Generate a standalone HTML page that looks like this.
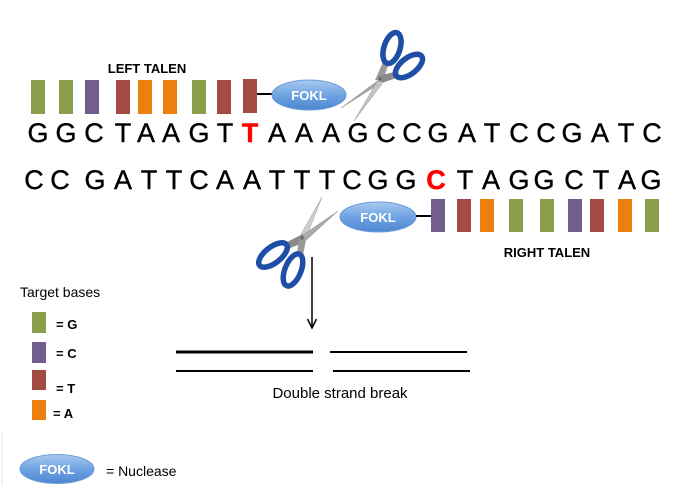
<!DOCTYPE html>
<html>
<head>
<meta charset="utf-8">
<style>
  html,body{margin:0;padding:0;background:#fff;}
  svg{display:block;}
  .seq{font-family:"Liberation Sans",sans-serif;font-size:27px;fill:#000;text-anchor:middle;stroke:#000;stroke-width:0.4;}
  .lbl{font-family:"Liberation Sans",sans-serif;font-weight:bold;font-size:13px;fill:#000;}
  .fk{font-family:"Liberation Sans",sans-serif;font-weight:bold;font-size:13px;fill:#fff;text-anchor:middle;}
  .txt{font-family:"Liberation Sans",sans-serif;font-size:14px;fill:#000;}
</style>
</head>
<body>
<svg width="673" height="486" viewBox="0 0 673 486" xmlns="http://www.w3.org/2000/svg">
  <defs>
    <linearGradient id="fok" x1="0" y1="0" x2="0" y2="1">
      <stop offset="0" stop-color="#a9cbf0"/>
      <stop offset="0.5" stop-color="#6fa3e2"/>
      <stop offset="1" stop-color="#4d86d0"/>
    </linearGradient>
    <linearGradient id="blade" x1="0" y1="0" x2="1" y2="1">
      <stop offset="0" stop-color="#d8d8d8"/>
      <stop offset="1" stop-color="#7a7a7a"/>
    </linearGradient>
  </defs>

  <!-- LEFT TALEN label -->
  <text class="lbl" x="147" y="73" text-anchor="middle">LEFT TALEN</text>

  <!-- left TALEN blocks -->
  <g>
    <rect x="31" y="80" width="14" height="34" fill="#8b9e4c"/>
    <rect x="59" y="80" width="14" height="34" fill="#8b9e4c"/>
    <rect x="85" y="80" width="14" height="34" fill="#715d8e"/>
    <rect x="116" y="80" width="14" height="34" fill="#a34a45"/>
    <rect x="138" y="80" width="14" height="34" fill="#ec800f"/>
    <rect x="163" y="80" width="14" height="34" fill="#ec800f"/>
    <rect x="192" y="80" width="14" height="34" fill="#8b9e4c"/>
    <rect x="217" y="80" width="14" height="34" fill="#a34a45"/>
    <rect x="243" y="79" width="14" height="34" fill="#a34a45"/>
  </g>
  <line x1="257" y1="94" x2="273" y2="94" stroke="#000" stroke-width="2"/>
  <ellipse cx="309" cy="95" rx="37" ry="15" fill="url(#fok)" stroke="#6b9bd8" stroke-width="1"/>
  <text class="fk" x="309" y="100">FOKL</text>

  <!-- top scissors -->
  <g>
    <polygon points="384,76 379,84 341,108" fill="url(#blade)" stroke="#888" stroke-width="0.5"/>
    <polygon points="378,80 382,84 354,121" fill="#c4c4c4" stroke="#999" stroke-width="0.5"/>
    <polygon points="375,80 383,62 389,63 383,80" fill="#9a9a9a"/>
    <polygon points="378,76 394,72 396,78 382,83" fill="#8a8a8a"/>
    <ellipse cx="392" cy="48" rx="8" ry="16" transform="rotate(18 392 48)" fill="#fff" stroke="#1f4ea6" stroke-width="5.5"/>
    <ellipse cx="409" cy="66" rx="16" ry="8" transform="rotate(-38 409 66)" fill="#fff" stroke="#1f4ea6" stroke-width="5.5"/>
    <circle cx="380" cy="79" r="1.6" fill="#666"/>
  </g>

  <!-- top sequence -->
  <g class="seq">
    <text x="38" y="142">G</text>
    <text x="66" y="142">G</text>
    <text x="94" y="142">C</text>
    <text x="123" y="142">T</text>
    <text x="146" y="142">A</text>
    <text x="171" y="142">A</text>
    <text x="199" y="142">G</text>
    <text x="225" y="142">T</text>
    <text x="250" y="142" style="fill:#ff0000;stroke:#ff0000;font-weight:bold">T</text>
    <text x="277" y="142">A</text>
    <text x="304" y="142">A</text>
    <text x="331" y="142">A</text>
    <text x="358" y="142">G</text>
    <text x="386" y="142">C</text>
    <text x="412" y="142">C</text>
    <text x="438" y="142">G</text>
    <text x="467" y="142">A</text>
    <text x="492" y="142">T</text>
    <text x="519" y="142">C</text>
    <text x="546" y="142">C</text>
    <text x="572" y="142">G</text>
    <text x="600" y="142">A</text>
    <text x="626" y="142">T</text>
    <text x="652" y="142">C</text>
  </g>

  <!-- bottom sequence -->
  <g class="seq">
    <text x="34" y="189">C</text>
    <text x="60" y="189">C</text>
    <text x="95" y="189">G</text>
    <text x="123" y="189">A</text>
    <text x="149" y="189">T</text>
    <text x="174" y="189">T</text>
    <text x="199" y="189">C</text>
    <text x="225" y="189">A</text>
    <text x="252" y="189">A</text>
    <text x="277" y="189">T</text>
    <text x="302" y="189">T</text>
    <text x="327" y="189">T</text>
    <text x="352" y="189">C</text>
    <text x="378" y="189">G</text>
    <text x="406" y="189">G</text>
    <text x="436" y="189" style="fill:#ff0000;stroke:#ff0000;font-weight:bold">C</text>
    <text x="465" y="189">T</text>
    <text x="491" y="189">A</text>
    <text x="519" y="189">G</text>
    <text x="544" y="189">G</text>
    <text x="574" y="189">C</text>
    <text x="601" y="189">T</text>
    <text x="627" y="189">A</text>
    <text x="651" y="189">G</text>
  </g>

  <!-- right TALEN -->
  <ellipse cx="378" cy="217" rx="38" ry="15" fill="url(#fok)" stroke="#6b9bd8" stroke-width="1"/>
  <text class="fk" x="378" y="222">FOKL</text>
  <line x1="416" y1="216" x2="431" y2="216" stroke="#000" stroke-width="2"/>
  <g>
    <rect x="431" y="199" width="14" height="33" fill="#715d8e"/>
    <rect x="457" y="199" width="14" height="33" fill="#a34a45"/>
    <rect x="480" y="199" width="14" height="33" fill="#ec800f"/>
    <rect x="509" y="199" width="14" height="33" fill="#8b9e4c"/>
    <rect x="540" y="199" width="14" height="33" fill="#8b9e4c"/>
    <rect x="568" y="199" width="14" height="33" fill="#715d8e"/>
    <rect x="590" y="199" width="14" height="33" fill="#a34a45"/>
    <rect x="618" y="199" width="14" height="33" fill="#ec800f"/>
    <rect x="645" y="199" width="14" height="33" fill="#8b9e4c"/>
  </g>
  <text class="lbl" x="547" y="257" text-anchor="middle">RIGHT TALEN</text>

  <!-- bottom scissors -->
  <g>
    <polygon points="300,236 305,240 322,197" fill="#cfcfcf" stroke="#999" stroke-width="0.5"/>
    <polygon points="300,237 304,242 338,211" fill="url(#blade)" stroke="#888" stroke-width="0.5"/>
    <polygon points="303,234 305,242 288,249 285,243" fill="#8a8a8a"/>
    <polygon points="299,238 306,240 303,255 297,254" fill="#9a9a9a"/>
    <ellipse cx="273" cy="255" rx="17" ry="8" transform="rotate(-38 273 255)" fill="#fff" stroke="#1f4ea6" stroke-width="5.5"/>
    <ellipse cx="293" cy="270" rx="17" ry="8" transform="rotate(-68 293 270)" fill="#fff" stroke="#1f4ea6" stroke-width="5.5"/>
    <circle cx="302" cy="238" r="1.6" fill="#666"/>
  </g>

  <!-- arrow -->
  <line x1="312" y1="257" x2="312" y2="327" stroke="#000" stroke-width="1.5"/>
  <polyline points="307.5,319 312,328 316.5,319" fill="none" stroke="#000" stroke-width="1.5"/>

  <!-- double strand break lines -->
  <line x1="176" y1="352" x2="313" y2="352" stroke="#000" stroke-width="3"/>
  <line x1="176" y1="371" x2="313" y2="371" stroke="#000" stroke-width="2"/>
  <line x1="330" y1="352" x2="467" y2="352" stroke="#000" stroke-width="2"/>
  <line x1="333" y1="371" x2="470" y2="371" stroke="#000" stroke-width="2"/>
  <text class="txt" x="340" y="398" text-anchor="middle" style="font-size:15px">Double strand break</text>

  <!-- legend -->
  <text class="txt" x="20" y="297">Target bases</text>
  <rect x="32" y="312" width="14" height="21" fill="#8b9e4c"/>
  <text class="lbl" x="56" y="329">= G</text>
  <rect x="32" y="342" width="14" height="21" fill="#715d8e"/>
  <text class="lbl" x="56" y="358">= C</text>
  <rect x="32" y="370" width="14" height="20" fill="#a34a45"/>
  <text class="lbl" x="56" y="393">= T</text>
  <rect x="32" y="400" width="14" height="20" fill="#ec800f"/>
  <text class="lbl" x="53" y="418">= A</text>

  <line x1="2" y1="433" x2="2" y2="486" stroke="#e6e6e6" stroke-width="1"/>
  <ellipse cx="57" cy="469" rx="37" ry="14.5" fill="url(#fok)" stroke="#6b9bd8" stroke-width="1"/>
  <text class="fk" x="57" y="474">FOKL</text>
  <text class="txt" x="106" y="476">= Nuclease</text>
</svg>
</body>
</html>
